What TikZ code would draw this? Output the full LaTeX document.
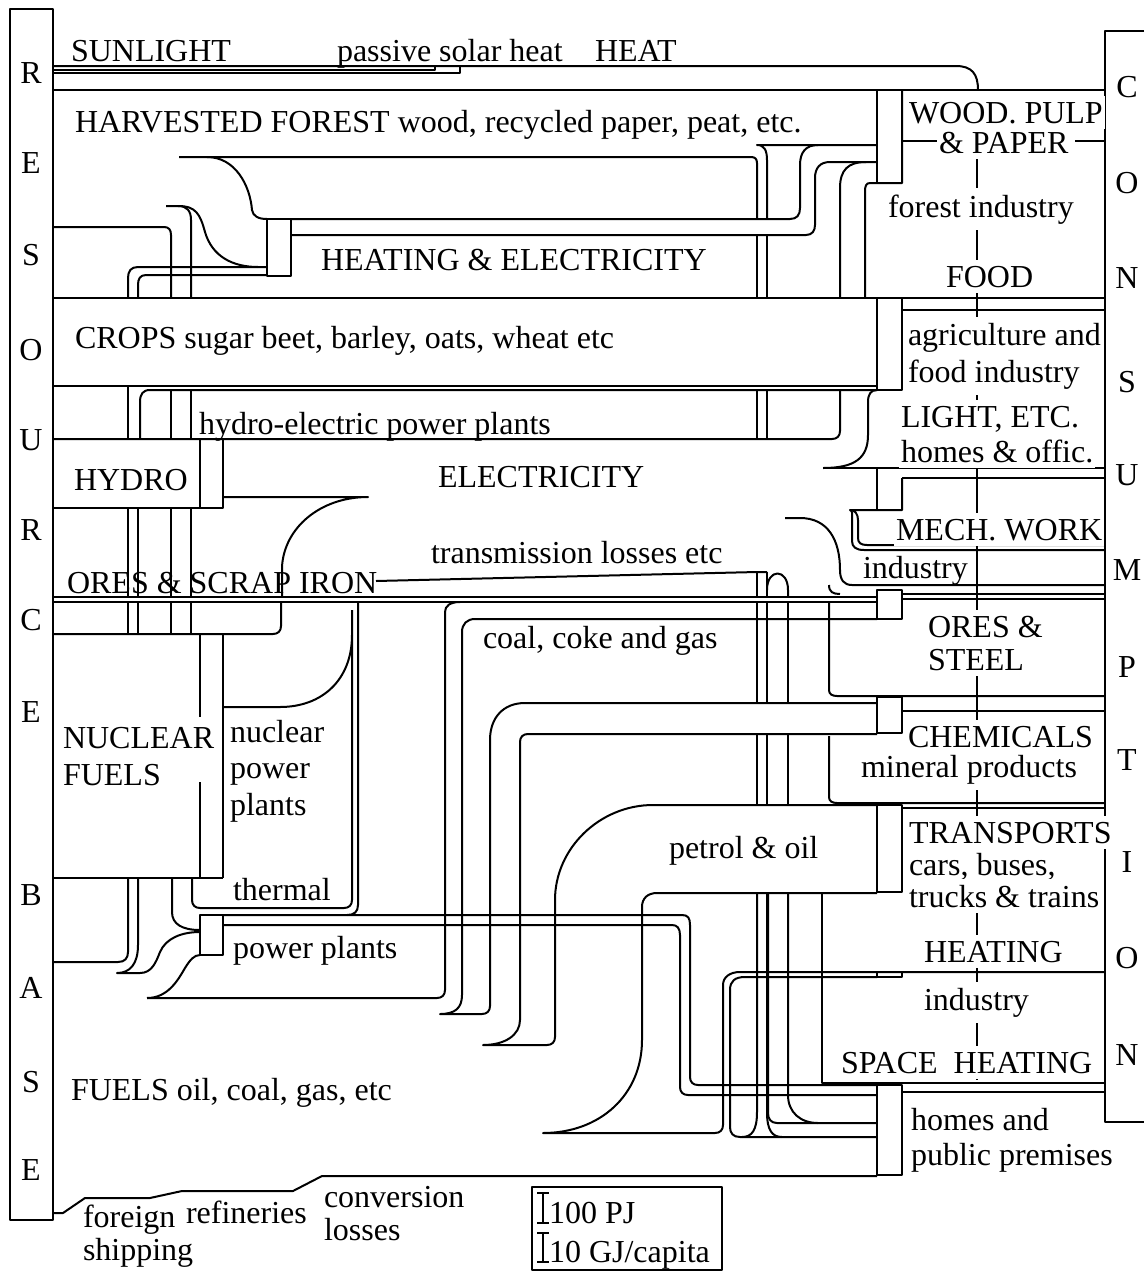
\documentclass[tikz,border=0pt]{standalone}
\usepackage{fontspec}
\setmainfont{Liberation Serif}
\begin{document}
\begin{tikzpicture}[x=1pt,y=-1pt,line width=2pt,line join=round,
  lb/.style={inner sep=0pt,anchor=base west,font=\fontsize{32}{36}\selectfont},
  lbw/.style={lb,fill=white,inner xsep=2pt,inner ysep=6pt},
  bl/.style={inner sep=0pt,anchor=center,font=\fontsize{32}{36}\selectfont}]
\useasboundingbox (0,0) rectangle (1144,1272);
% ---------------- frame bars
\draw (10,9) rectangle (53,1220);
\draw (1144,31) -- (1105,31) -- (1105,1122) -- (1144,1122);
% ---------------- sunlight / heat
\draw (53,66) -- (956,66) .. controls (972,66) and (978,74) .. (978,90);
\draw (53,69.5) -- (435,69.5) -- (435,66);
\draw (53,72.5) -- (460,72.5) -- (460,66);
\draw (53,90) -- (1105,90);
% ---------------- forest industry box
\draw (877,90) -- (877,183);
\draw (902,90) -- (902,183) -- (870,183) .. controls (866,183) and (865,186) .. (865,192) -- (865,298);
\draw (902,141) -- (937,141);
\draw (1075,141) -- (1105,141);
\draw (877,145) -- (757,145) .. controls (764,145) and (767,150) .. (767,160) -- (767,219);
\draw (767,235) -- (767,298);
\draw (179,157) -- (751,157) .. controls (755,157) and (757,159) .. (757,163) -- (757,219);
\draw (757,235) -- (757,298);
\draw (207,157) .. controls (235,157) and (250,185) .. (252,210) .. controls (253,216) and (258,219) .. (267,219);
% ---------------- heating & electricity
\draw (267,219) rectangle (291,276);
\draw (291,219) -- (790,219) .. controls (797,219) and (800,215) .. (800,208) -- (800,165) .. controls (800,152) and (806,145) .. (818,145);
\draw (291,235) -- (806,235) .. controls (812,235) and (815,231) .. (815,225) -- (815,178) .. controls (815,168) and (820,162) .. (830,162) -- (877,162);
\draw (866,162) .. controls (848,162) and (840,170) .. (840,188) -- (840,298);
\draw (267,267) -- (138,267) .. controls (131,267) and (128,271) .. (128,278) -- (128,298);
\draw (267,275) -- (146,275) .. controls (140,275) and (138,279) .. (138,285) -- (138,298);
\draw (166,206) -- (178,206) .. controls (187,206) and (191,211) .. (191,220) -- (191,298);
\draw (178,206) .. controls (196,206) and (200,214) .. (205,232) .. controls (212,256) and (232,267) .. (258,267);
\draw (53,227) -- (164,227) .. controls (169,227) and (171,230) .. (171,235) -- (171,298);
% ---------------- crops
\draw (53,298) -- (1105,298);
\draw (53,386) -- (877,386);
\draw (877,390) -- (150,390) .. controls (143,390) and (140,394) .. (140,402) -- (140,439);
\draw (877,298) -- (877,390) -- (902,390) -- (902,298);
\draw (902,310) -- (1105,310);
% ---------------- hydro-electric band
\draw (128,386) -- (128,439);
\draw (171,390) -- (171,439);
\draw (191,390) -- (191,439);
\draw (757,390) -- (757,439);
\draw (767,390) -- (767,439);
\draw (53,439) -- (832,439) .. controls (837,439) and (840,436) .. (840,431) -- (840,390);
% light
\draw (823,468) -- (1105,468);
\draw (823,468) .. controls (855,468) and (868,458) .. (868,435) -- (868,402) .. controls (868,394) and (871,390) .. (877,390);
\draw (902,478) -- (1105,478);
% mech work
\draw (877,468) -- (877,510);
\draw (902,478) -- (902,510) -- (850,510) .. controls (855,510) and (858,514) .. (858,520) -- (858,538) .. controls (858,543) and (861,545) .. (867,545) -- (1105,545);
\draw (850,510) .. controls (853,511) and (852,514) .. (852,522) -- (852,541) .. controls (852,547) and (856,550) .. (864,550) -- (1105,550);
% industry
\draw (785,518) -- (800,518) .. controls (828,518) and (840,540) .. (840,570) .. controls (840,580) and (844,585) .. (852,585) -- (1105,585);
% ---------------- hydro
\draw (200,439) rectangle (223,508);
\draw (53,508) -- (200,508);
\draw (223,497) -- (368,497) .. controls (320,497) and (284,528) .. (282,567) -- (282,597);
\draw (281,602) -- (281,626) .. controls (281,631) and (278,634) .. (273,634) -- (53,634);
\foreach \x in {128,138,171,191} {\draw (\x,508) -- (\x,597); \draw (\x,602) -- (\x,634);}
% ---------------- ores
\draw (53,597) -- (877,597);
\draw (53,602) -- (877,602);
\draw (376,581) -- (757,572) -- (767,572);
\draw (757,572) -- (757,597);
\draw (767,572) -- (767,597);
\draw (767,590) .. controls (767,568) and (788,568) .. (788,590) -- (788,597);
\draw (877,590) rectangle (902,619);
\draw (902,594) -- (1105,594);
\draw (902,599) -- (1105,599);
\draw (829,585) .. controls (829,592) and (833,594) .. (840,594);
\draw (829,602) -- (829,690) .. controls (829,694) and (832,696) .. (837,696) -- (1105,696);
\draw (902,711) -- (1105,711);
% ---------------- nuclear
\draw (200,634) -- (200,717);
\draw (200,782) -- (200,878);
\draw (223,634) -- (223,878);
\draw (53,878) -- (223,878);
\draw (223,707) -- (280,707) .. controls (322,707) and (352,680) .. (352,635);
\draw (352,610) -- (352,900) .. controls (352,905) and (349,908) .. (344,908) -- (200,908) .. controls (195,908) and (192,905) .. (192,900) -- (192,878);
\draw (358,602) -- (358,905) .. controls (358,912) and (354,915) .. (347,915);
\draw (223,915) -- (682,915) .. controls (688,915) and (690,918) .. (690,925) -- (690,1077) .. controls (690,1082) and (693,1085) .. (698,1085) -- (877,1085);
\draw (223,925) -- (672,925) .. controls (677,925) and (680,928) .. (680,935) -- (680,1087) .. controls (680,1092) and (683,1095) .. (688,1095) -- (877,1095);
\draw (200,915) rectangle (223,955);
\draw (128,878) -- (128,952) .. controls (128,958) and (125,962) .. (118,962) -- (53,962);
\draw (138,878) -- (138,945) .. controls (138,964) and (130,973) .. (117,973) -- (140,973) .. controls (152,973) and (156,962) .. (160,952) .. controls (166,938) and (182,932) .. (200,932);
\draw (172,878) -- (172,912) .. controls (172,924) and (182,930) .. (200,930);
% ---------------- fuels: coal
\draw (147,998) -- (437,998) .. controls (442,998) and (445,995) .. (445,990) -- (445,612) .. controls (445,606) and (450,602) .. (460,602);
\draw (147,998) .. controls (168,998) and (178,980) .. (185,968) .. controls (190,960) and (194,955) .. (200,955);
\draw (877,619) -- (475,619) .. controls (467,619) and (462,624) .. (462,632) -- (462,995) .. controls (462,1008) and (455,1014) .. (440,1014) -- (482,1014) .. controls (487,1014) and (490,1011) .. (490,1006) -- (490,740) .. controls (490,718) and (503,703) .. (525,703) -- (877,703);
% chemicals / petrol
\draw (877,734) -- (528,734) .. controls (523,734) and (520,737) .. (520,742) -- (520,1020) .. controls (520,1035) and (505,1045) .. (483,1045) -- (547,1045) .. controls (552,1045) and (555,1042) .. (555,1037) -- (555,900) .. controls (555,848) and (600,805) .. (653,805) -- (877,805);
\draw (877,893) -- (657,893) .. controls (648,893) and (642,898) .. (642,907) -- (642,1040) .. controls (642,1095) and (600,1133) .. (543,1133) -- (715,1133) .. controls (720,1133) and (723,1130) .. (723,1125) -- (723,985) .. controls (723,977) and (730,972) .. (740,972) -- (1105,972);
\draw (877,977) -- (745,977) .. controls (735,977) and (730,981) .. (730,990) -- (730,1127) .. controls (730,1133) and (733,1137) .. (740,1137) -- (877,1137);
\draw (877,697) rectangle (902,733);
\draw (877,805) rectangle (902,892);
\draw (877,972) rectangle (902,977);
\draw (877,1085) rectangle (902,1175);
\draw (829,736) -- (829,797) .. controls (829,801) and (832,803) .. (837,803) -- (1105,803);
\draw (902,808) -- (1105,808);
\draw (822,893) -- (822,1083) -- (1105,1083);
\draw (902,1092) -- (1105,1092);
% thin vertical ducts
\foreach \x in {757,767,788} {\draw (\x,602) -- (\x,703); \draw (\x,734) -- (\x,805);}
\draw (757,893) -- (757,1112) .. controls (757,1130) and (752,1137) .. (742,1137);
\draw (767,893) -- (767,1112) .. controls (767,1130) and (772,1137) .. (782,1137);
\draw (768,893) -- (768,1113) .. controls (768,1119) and (771,1123) .. (777,1123) -- (877,1123);
\draw (788,893) -- (788,1095) .. controls (788,1112) and (800,1123) .. (818,1123);
% bottom line
\draw (53,1213) -- (63,1213) -- (85,1198) -- (150,1198) -- (182,1191) -- (293,1191) -- (322,1176) -- (877,1176);
% ---------------- legend
\draw (532,1187) rectangle (722,1270);
\draw (543,1193) -- (543,1223) (537,1193) -- (549,1193) (537,1223) -- (549,1223);
\draw (543,1233) -- (543,1262) (537,1233) -- (549,1233) (537,1262) -- (549,1262);
% ---------------- right column divider
\draw (977,157) -- (977,1080);
% ---------------- labels
\foreach \c/\y [count=\i] in {R/73,E/163,S/255,O/350,U/440,R/530,C/620,E/712,B/895,A/988,S/1082,E/1170}
  \node[bl] (rb\i) at (31,\y) {\c};
\foreach \c/\y [count=\i] in {C/87,O/183,N/278,S/382,U/475,M/570,P/667,T/760,I/862,O/958,N/1055}
  \node[bl] (cb\i) at (1127,\y) {\c};
\node[lb] (sun) at (70,61) {SUNLIGHT};
\node[lb] (pas) at (336,61) {passive solar heat};
\node[lb] (heat) at (594,61) {HEAT};
\node[lb] (hf) at (74,132) {HARVESTED FOREST wood, recycled paper, peat, etc.};
\node[lbw] (wpp) at (906,123) {WOOD. PULP};
\node[lbw] (pap) at (936,153) {\& PAPER};
\node[lbw] (fi) at (885,217) {forest industry};
\node[lbw] (food) at (943,287) {FOOD};
\node[lb] (he) at (320,270) {HEATING \& ELECTRICITY};
\node[lb] (crops) at (74,348) {CROPS sugar beet, barley, oats, wheat etc};
\node[lbw] (agr) at (905,345) {agriculture and};
\node[lbw] (fin) at (905,382) {food industry};
\node[lbw] (light) at (898,427) {LIGHT, ETC.};
\node[lbw] (hom) at (898,462) {homes \& offic.};
\node[lb] (hyel) at (198,434) {hydro-electric power plants};
\node[lb] (hydro) at (73,490) {HYDRO};
\node[lb] (elec) at (437,487) {ELECTRICITY};
\node[lbw] (mech) at (893,540) {MECH. WORK};
\node[lb] (trl) at (430,563) {transmission losses etc};
\node[lb] (ind1) at (862,578) {industry};
\node[lb] (ores) at (66,593) {ORES \& SCRAP IRON};
\node[lbw] (ores2) at (925,637) {ORES \&};
\node[lbw] (steel) at (925,670) {STEEL};
\node[lb] (coal) at (482,648) {coal, coke and gas};
\node[lb] (nucl) at (62,748) {NUCLEAR};
\node[lb] (nfu) at (62,785) {FUELS};
\node[lb] (npp1) at (229,742) {nuclear};
\node[lb] (npp2) at (229,778) {power};
\node[lb] (npp3) at (229,815) {plants};
\node[lbw] (chem) at (905,747) {CHEMICALS};
\node[lbw] (minp) at (858,777) {mineral products};
\node[lb] (pet) at (668,858) {petrol \& oil};
\node[lbw] (tra) at (906,843) {TRANSPORTS};
\node[lbw] (cars) at (906,875) {cars, buses,};
\node[lbw] (truck) at (906,907) {trucks \& trains};
\node[lb] (therm) at (232,900) {thermal};
\node[lb] (pp) at (232,958) {power plants};
\node[lbw] (heatg) at (921,962) {HEATING};
\node[lbw] (ind2) at (921,1010) {industry};
\node[lbw] (space) at (838,1073) {SPACE\ \ HEATING};
\node[lb] (fuels) at (70,1100) {FUELS oil, coal, gas, etc};
\node[lb] (homes) at (910,1130) {homes and};
\node[lb] (pub) at (910,1165) {public premises};
\node[lb] (for) at (82,1227) {foreign};
\node[lb] (ship) at (82,1260) {shipping};
\node[lb] (ref) at (185,1223) {refineries};
\node[lb] (conv) at (323,1207) {conversion};
\node[lb] (loss) at (323,1240) {losses};
\node[lb] (leg1) at (548,1223) {100 PJ};
\node[lb] (leg2) at (548,1262) {10 GJ/capita};
\end{tikzpicture}
\end{document}
